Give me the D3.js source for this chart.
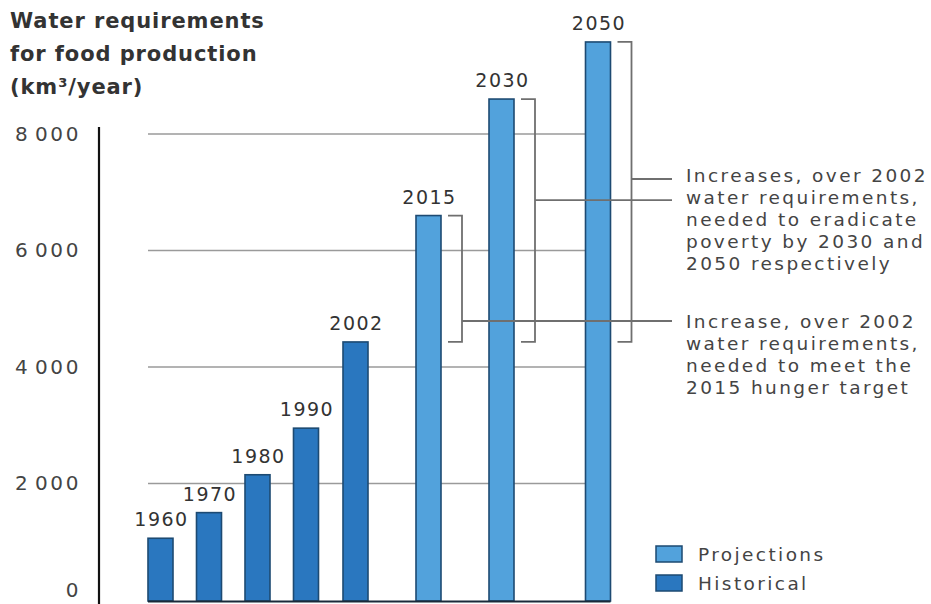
<!DOCTYPE html>
<html><head><meta charset="utf-8">
<script src="https://cdn.jsdelivr.net/npm/d3@7"></script>
<style>
html,body{margin:0;padding:0;background:#fff;}
svg{display:block;}
text{font-family:"DejaVu Sans",sans-serif;}
</style></head>
<body>
<svg id="chart" width="931" height="604"></svg>
<script>
// ---- data ----
const years = [1960, 1970, 1980, 1990, 2002, 2015, 2030, 2050];
const values = [1060, 1500, 2150, 2950, 4430, 6600, 8600, 9580];
const kinds = ["Historical","Historical","Historical","Historical","Historical","Projections","Projections","Projections"];
const yTicks = [0, 2000, 4000, 6000, 8000];
const titleLines = ["Water requirements", "for food production", "(km³/year)"];
const noteHigh = ["Increases, over 2002", "water requirements,", "needed to eradicate", "poverty by 2030 and", "2050 respectively"];
const noteLow = ["Increase, over 2002", "water requirements,", "needed to meet the", "2015 hunger target"];
const legendItems = ["Projections", "Historical"];
const baseYear = 2002;

// ---- layout ----
const svg = d3.select("#chart");
const colors = {Historical: "#2a77bf", Projections: "#52a2dc"};
const edge = "#1d4a72";
const y = d3.scaleLinear().domain([0, 8000]).range([600, 134]);
const x = d3.scaleLinear()
  .domain([1960, 1990, 2002, 2015, 2030, 2050])
  .range([160.5, 306, 355.5, 428.5, 501.5, 598]);
const bw = 25;

// title
svg.append("g").selectAll("text").data(titleLines).join("text")
  .attr("x", 10).attr("y", (d,i) => 28 + i*33)
  .attr("font-size", 21).attr("font-weight", "bold").attr("fill", "#333")
  .attr("letter-spacing", 0.9)
  .text(d => d);

// gridlines
svg.append("g").selectAll("line").data(yTicks.filter(d => d > 0)).join("line")
  .attr("x1", 148).attr("x2", 598)
  .attr("y1", d => y(d)).attr("y2", d => y(d))
  .attr("stroke", "#9a9a9a").attr("stroke-width", 1.5);

// y axis
const yAxis = d3.axisLeft(y).tickValues(yTicks).tickSize(0).tickPadding(18)
  .tickFormat(d => d === 0 ? "0" : d3.format(",")(d).replace(",", "\u200A"));
const ga = svg.append("g").attr("transform", "translate(99,0)").call(yAxis);
ga.select(".domain").remove();
ga.append("line").attr("x1", 0).attr("x2", 0).attr("y1", 127).attr("y2", 604)
  .attr("stroke", "#111").attr("stroke-width", 2.2);
ga.selectAll(".tick text").attr("font-size", 20).attr("fill", "#444")
  .attr("letter-spacing", 2.6).attr("font-family", "DejaVu Sans");
ga.selectAll(".tick").filter(d => d === 0).select("text").attr("dy", "-0.2em");

// bars
const data = years.map((yr, i) => ({year: yr, value: values[i], kind: kinds[i]}));
svg.append("g").selectAll("rect").data(data).join("rect")
  .attr("x", d => x(d.year) - bw/2).attr("width", bw)
  .attr("y", d => y(d.value)).attr("height", d => y(0) - y(d.value) + 1)
  .attr("fill", d => colors[d.kind]).attr("stroke", edge).attr("stroke-width", 1.6);

// baseline
svg.append("line").attr("x1", x(1960) - bw/2).attr("x2", x(2050) + bw/2)
  .attr("y1", 601.5).attr("y2", 601.5).attr("stroke", "#1a2a3a").attr("stroke-width", 2);

// year labels
svg.append("g").selectAll("text").data(data).join("text")
  .attr("x", d => x(d.year) + 1).attr("y", d => y(d.value) - 12)
  .attr("text-anchor", "middle").attr("font-size", 19).attr("fill", "#333")
  .attr("letter-spacing", 1.5)
  .text(d => d.year);

// annotations
const noteX = 686, lh = 22.2;
const highTop = 175, lowTop = 321;
function note(lines, top) {
  svg.append("g").selectAll("text").data(lines).join("text")
    .attr("x", noteX).attr("y", (d,i) => top + i*lh + 6.5)
    .attr("font-size", 18.5).attr("fill", "#444").attr("letter-spacing", 2.4)
    .text(d => d);
}
note(noteHigh, highTop);
note(noteLow, lowTop);

// brackets
const base = data.find(d => d.year === baseYear).value;
const proj = data.filter(d => d.kind === "Projections");
const connY = {2015: lowTop, 2030: highTop + lh + 3, 2050: highTop + 4};
const gb = svg.append("g").attr("fill", "none").attr("stroke", "#6f6f6f").attr("stroke-width", 1.8);
proj.forEach(d => {
  const x0 = x(d.year) + bw/2 + 7, x1 = x0 + 14;
  gb.append("path").attr("d", `M${x0},${y(d.value)}H${x1}V${y(base)}H${x0}`);
  gb.append("line").attr("x1", x1).attr("x2", noteX - 14)
    .attr("y1", connY[d.year]).attr("y2", connY[d.year]);
});

// legend
const lg = svg.append("g").selectAll("g").data(legendItems).join("g")
  .attr("transform", (d,i) => `translate(656,${546 + i*29})`);
lg.append("rect").attr("width", 26).attr("height", 16)
  .attr("fill", d => colors[d]).attr("stroke", edge).attr("stroke-width", 1.5);
lg.append("text").attr("x", 42).attr("y", 15).attr("font-size", 18.5)
  .attr("fill", "#444").attr("letter-spacing", 2.4).text(d => d);
</script>
</body></html>
